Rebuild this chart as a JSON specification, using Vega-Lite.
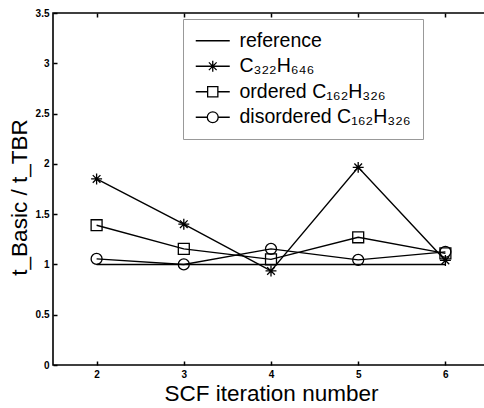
{
  "$schema": "https://vega.github.io/schema/vega-lite/v6.json",
  "width": 436,
  "height": 352,
  "autosize": {"type": "none"},
  "padding": {"left": 53, "top": 13, "right": 0, "bottom": 43},
  "background": "white",
  "config": {
    "view": {"stroke": "black", "strokeWidth": 1.6},
    "font": "Liberation Sans",
    "axis": {"grid": false, "domain": false, "tickColor": "black", "tickSize": -4, "tickWidth": 1.5, "labelColor": "black", "titleColor": "black", "labelFontSize": 10, "labelFontWeight": "bold", "titleFontWeight": "normal", "titleFontSize": 22.5}
  },
  "data": {
    "values": [
      {"iter": 2, "series": "reference", "value": 1.0},
      {"iter": 3, "series": "reference", "value": 1.0},
      {"iter": 4, "series": "reference", "value": 1.0},
      {"iter": 5, "series": "reference", "value": 1.0},
      {"iter": 6, "series": "reference", "value": 1.0},
      {"iter": 2, "series": "C₃₂₂H₆₄₆", "value": 1.85},
      {"iter": 3, "series": "C₃₂₂H₆₄₆", "value": 1.40},
      {"iter": 4, "series": "C₃₂₂H₆₄₆", "value": 0.935},
      {"iter": 5, "series": "C₃₂₂H₆₄₆", "value": 1.965},
      {"iter": 6, "series": "C₃₂₂H₆₄₆", "value": 1.04},
      {"iter": 2, "series": "ordered C₁₆₂H₃₂₆", "value": 1.39},
      {"iter": 3, "series": "ordered C₁₆₂H₃₂₆", "value": 1.155},
      {"iter": 4, "series": "ordered C₁₆₂H₃₂₆", "value": 1.05},
      {"iter": 5, "series": "ordered C₁₆₂H₃₂₆", "value": 1.27},
      {"iter": 6, "series": "ordered C₁₆₂H₃₂₆", "value": 1.11},
      {"iter": 2, "series": "disordered C₁₆₂H₃₂₆", "value": 1.055},
      {"iter": 3, "series": "disordered C₁₆₂H₃₂₆", "value": 1.0},
      {"iter": 4, "series": "disordered C₁₆₂H₃₂₆", "value": 1.155},
      {"iter": 5, "series": "disordered C₁₆₂H₃₂₆", "value": 1.045},
      {"iter": 6, "series": "disordered C₁₆₂H₃₂₆", "value": 1.125}
    ]
  },
  "layer": [
    {
      "mark": {"type": "line", "color": "black", "strokeWidth": 1.4},
      "encoding": {
        "x": {"field": "iter", "type": "quantitative", "scale": {"domain": [1.5, 6.5], "nice": false, "zero": false},
              "axis": {"orient": "bottom", "values": [2, 3, 4, 5, 6], "labelPadding": 8, "title": "SCF iteration number", "titlePadding": 3}},
        "y": {"field": "value", "type": "quantitative", "scale": {"domain": [0, 3.5], "nice": false},
              "axis": {"orient": "left", "values": [0, 0.5, 1, 1.5, 2, 2.5, 3, 3.5], "format": "~g", "labelPadding": 8, "title": "t_Basic / t_TBR", "titlePadding": 4, "titleY": 184}},
        "detail": {"field": "series"}
      }
    },
    {
      "transform": [{"filter": "datum.series != 'reference'"}],
      "mark": {"type": "point", "filled": false, "color": "black", "strokeWidth": 1.3, "size": 120, "opacity": 1},
      "encoding": {
        "x": {"field": "iter", "type": "quantitative", "axis": null},
        "y": {"field": "value", "type": "quantitative", "axis": null},
        "shape": {"field": "series", "type": "nominal",
                  "scale": {"domain": ["C₃₂₂H₆₄₆", "ordered C₁₆₂H₃₂₆", "disordered C₁₆₂H₃₂₆"],
                            "range": ["M0,-1V1M-1,0H1M-0.7,-0.7L0.7,0.7M-0.7,0.7L0.7,-0.7", "square", "circle"]},
                  "legend": null}
      }
    },
    {
      "transform": [{"filter": "false"}],
      "mark": {"type": "point", "filled": false, "color": "black", "strokeWidth": 1.3},
      "encoding": {
        "x": {"field": "iter", "type": "quantitative", "axis": {"orient": "top", "values": [2, 3, 4, 5, 6], "labels": false, "title": null}},
        "y": {"field": "value", "type": "quantitative", "axis": {"orient": "right", "values": [0, 0.5, 1, 1.5, 2, 2.5, 3, 3.5], "labels": false, "title": null}},
        "shape": {"field": "series", "type": "nominal",
                  "scale": {"domain": ["reference", "C₃₂₂H₆₄₆", "ordered C₁₆₂H₃₂₆", "disordered C₁₆₂H₃₂₆"],
                            "range": [
                              "M-2.5,0H2.5",
                              "M-2.5,0H2.5M0,-0.8V0.8M-0.57,-0.57L0.57,0.57M-0.57,0.57L0.57,-0.57",
                              "M-2.5,0H-0.75M0.75,0H2.5M-0.75,-0.75H0.75V0.75H-0.75Z",
                              "M-2.5,0H-0.8M0.8,0H2.5M-0.8,0A0.8,0.8,0,1,1,0.8,0A0.8,0.8,0,1,1,-0.8,0Z"
                            ]},
                  "legend": {"title": null, "orient": "none", "legendX": 130, "legendY": 6,
                             "symbolSize": 185, "symbolStrokeWidth": 1.3, "symbolStrokeColor": "black", "symbolFillColor": "transparent", "symbolOpacity": 1,
                             "symbolOffset": 8, "labelOffset": 17, "labelFontSize": 19.5, "labelFont": "Liberation Sans", "labelColor": "black", "labelLimit": 400,
                             "rowPadding": 4.5, "padding": 12, "strokeColor": "#999999", "fillColor": "white"}}
      }
    }
  ],
  "resolve": {"scale": {"shape": "independent"}, "axis": {"x": "independent", "y": "independent"}}
}
